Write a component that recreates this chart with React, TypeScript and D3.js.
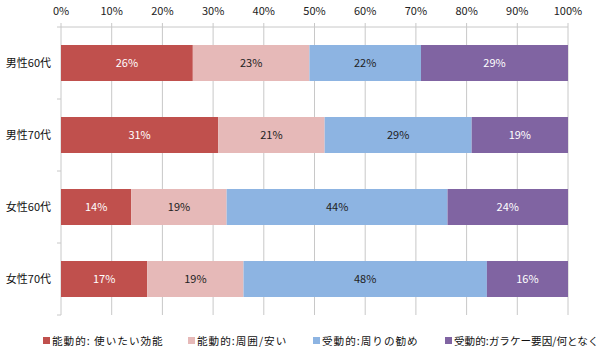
import React from 'react';
import * as d3 from 'd3';

const CATEGORIES = ['男性60代', '男性70代', '女性60代', '女性70代'];
const SERIES = ['能動的: 使いたい効能', '能動的:周囲/安い', '受動的:周りの勧め', '受動的:ガラケー要因/何となく'];
const COLORS = ['#C0504D', '#E6B9B8', '#8DB4E2', '#8064A2'];
const LABEL_COLORS = ['#ffffff', '#222222', '#222222', '#ffffff'];
const VALUES = [
  [26, 23, 22, 29],
  [31, 21, 29, 19],
  [14, 19, 44, 24],
  [17, 19, 48, 16],
];
const TICKS = [0, 10, 20, 30, 40, 50, 60, 70, 80, 90, 100];

const W = 602;
const H = 354;
const LEFT = 61;
const RIGHT = 568;
const TOP = 27;
const BOTTOM = 315;
const FONT = '"Noto Sans CJK JP", "Noto Sans", sans-serif';

export default function App() {
  const x = d3.scaleLinear().domain([0, 100]).range([LEFT, RIGHT]);
  const y = d3.scaleBand().domain(CATEGORIES).range([TOP, BOTTOM]).paddingInner(0.5).paddingOuter(0.25);
  const legendX = [43, 188, 313, 445];
  const legendSpacing = [1, 1, 1, 0];

  return (
    <svg width={W} height={H} style={{ position: 'absolute', left: 0, top: 0 }} fontFamily={FONT}>
      <rect width={W} height={H} fill="#fff" />
      {/* gridlines */}
      {TICKS.map((t) => (
        <line key={`g${t}`} x1={x(t)} x2={x(t)} y1={TOP - 4} y2={BOTTOM} stroke="#c8c8c8" strokeWidth={1} />
      ))}
      <line x1={LEFT} x2={RIGHT} y1={TOP} y2={TOP} stroke="#c8c8c8" />
      {/* category ticks */}
      {d3.range(CATEGORIES.length + 1).map((i) => {
        const yy = TOP + (i * (BOTTOM - TOP)) / CATEGORIES.length;
        return <line key={`ct${i}`} x1={LEFT - 4} x2={LEFT} y1={yy} y2={yy} stroke="#c8c8c8" />;
      })}
      {TICKS.map((t) => (
        <text key={`t${t}`} x={x(t)} y={15} textAnchor="middle" fontSize={11} fill="#222">
          {t}%
        </text>
      ))}
      {CATEGORIES.map((c, ci) => {
        const total = d3.sum(VALUES[ci]);
        let acc = 0;
        const by = y(c) ?? 0;
        return (
          <g key={c}>
            <text x={LEFT - 10} y={by + y.bandwidth() / 2} dy="0.35em" textAnchor="end" fontSize={11} fill="#111">
              {c}
            </text>
            {VALUES[ci].map((v, si) => {
              const x0 = x((acc / total) * 100);
              acc += v;
              const x1 = x((acc / total) * 100);
              return (
                <g key={si}>
                  <rect x={x0} y={by} width={x1 - x0} height={y.bandwidth()} fill={COLORS[si]} />
                  <text x={(x0 + x1) / 2} y={by + y.bandwidth() / 2} dy="0.35em" textAnchor="middle" fontSize={11} fill={LABEL_COLORS[si]}>
                    {v}%
                  </text>
                </g>
              );
            })}
          </g>
        );
      })}
      {SERIES.map((s, si) => (
        <g key={s}>
          <rect x={legendX[si]} y={337} width={7} height={7} fill={COLORS[si]} />
          <text x={legendX[si] + 9} y={341} dy="0.35em" fontSize={10.6} letterSpacing={legendSpacing[si]} fill="#111">
            {s}
          </text>
        </g>
      ))}
    </svg>
  );
}
